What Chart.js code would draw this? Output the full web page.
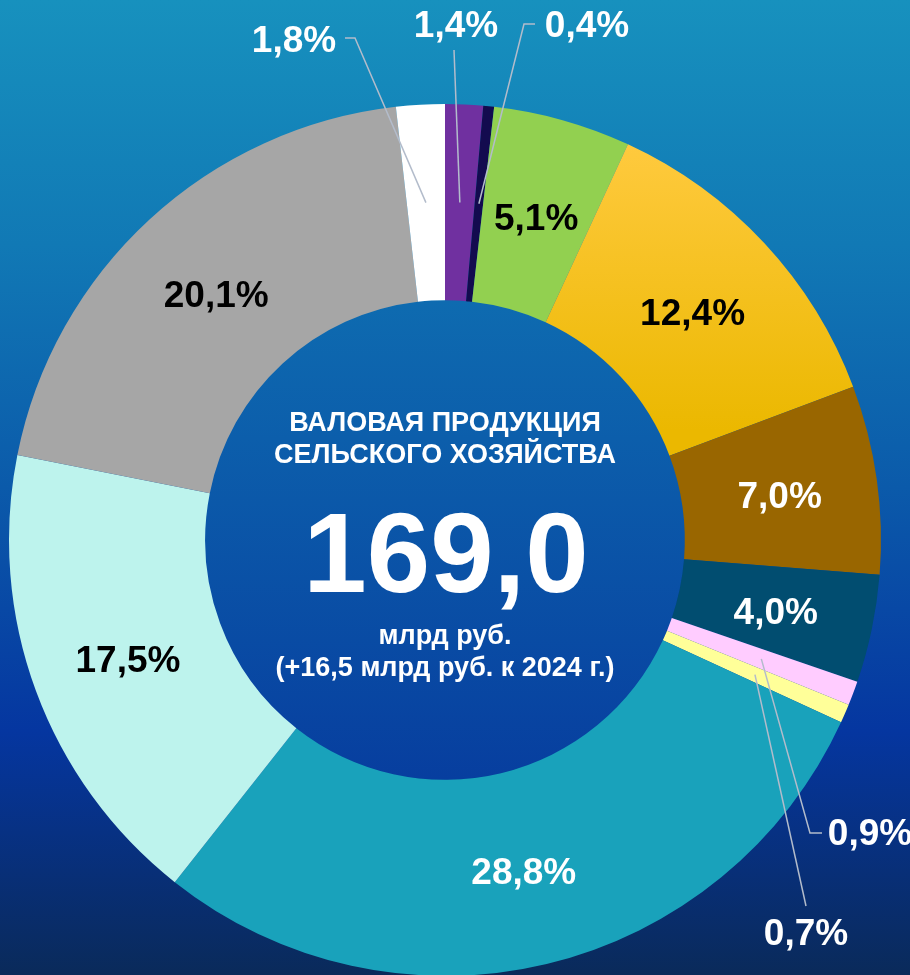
<!DOCTYPE html>
<html>
<head>
<meta charset="utf-8">
<script src="https://cdn.jsdelivr.net/npm/chart.js@4.4.1/dist/chart.umd.min.js"></script>
<style>
  html, body { margin: 0; padding: 0; overflow: hidden; background: #0a2a5c; }
  #wrap {
    width: 910px; height: 975px; overflow: hidden;
    background: linear-gradient(to bottom, #1791be 0%, #1179b5 25%, #0b5aaa 50%, #0536a0 75%, #0a2a5a 100%);
  }
</style>
</head>
<body>
<div id="wrap"><canvas id="grafico" width="910" height="1000"></canvas></div>
<script>
// доли структуры валовой продукции, %
const segmentos = ["1,4%", "0,4%", "5,1%", "12,4%", "7,0%", "4,0%", "0,9%", "0,7%", "28,8%", "17,5%", "20,1%", "1,8%"];
const valores = [1.4, 0.4, 5.1, 12.4, 7.0, 4.0, 0.9, 0.7, 28.8, 17.5, 20.1, 1.8];
const cores = ["#7030a0", "#130b4f", "#92d050", "amarelo", "#996600", "#014d70", "#ffccff", "#ffff99", "#19a2bb", "#bdf3ed", "#a6a6a6", "#ffffff"];
const corTexto = ["#fff", "#fff", "#000", "#000", "#fff", "#fff", "#fff", "#fff", "#fff", "#000", "#000", "#fff"];

const tituloCentro = ["ВАЛОВАЯ ПРОДУКЦИЯ", "СЕЛЬСКОГО ХОЗЯЙСТВА"];
const valorCentro = "169,0";
const unidadeCentro = ["млрд руб.", "(+16,5 млрд руб. к 2024 г.)"];

// rótulos fora do anel: posição do texto e linha guia
const rotulosFora = {
  0: { tx: 456, ty: 27, linha: [[454, 50]] },
  1: { tx: 587, ty: 27, linha: [[535, 24], [524, 24]] },
  6: { tx: 870, ty: 835, linha: [[822, 833], [810, 833]] },
  7: { tx: 806, ty: 935, linha: [[806, 906]] },
  11: { tx: 294, ty: 42, linha: [[345, 38], [355, 38]] }
};

const FONTE = "'Liberation Sans', Arial, sans-serif";

const pluginCentro = {
  id: "centro",
  beforeDatasetsDraw(chart) {
    const arc = chart.getDatasetMeta(0).data[0];
    const { x, y, innerRadius } = arc.getProps(["x", "y", "innerRadius"], true);
    const ctx = chart.ctx;
    const g = ctx.createLinearGradient(0, y - innerRadius, 0, y + innerRadius);
    g.addColorStop(0, "#0e6bb0");
    g.addColorStop(1, "#073e9f");
    ctx.save();
    ctx.beginPath();
    ctx.arc(x, y, innerRadius, 0, Math.PI * 2);
    ctx.fillStyle = g;
    ctx.fill();
    ctx.restore();
  },
  afterDatasetsDraw(chart) {
    const ctx = chart.ctx;
    const meta = chart.getDatasetMeta(0);
    const c0 = meta.data[0].getProps(["x", "y"], true);
    ctx.save();
    ctx.textAlign = "center";
    ctx.textBaseline = "middle";
    ctx.fillStyle = "#fff";

    ctx.font = "bold 27px " + FONTE;
    ctx.fillText(tituloCentro[0], c0.x, 424);
    ctx.fillText(tituloCentro[1], c0.x, 456);
    ctx.font = "bold 114px " + FONTE;
    ctx.fillText(valorCentro, c0.x + 1, 561);
    ctx.font = "bold 27px " + FONTE;
    ctx.fillText(unidadeCentro[0], c0.x, 637);
    ctx.fillText(unidadeCentro[1], c0.x, 669);

    meta.data.forEach((arc, i) => {
      const p = arc.getProps(["x", "y", "startAngle", "endAngle", "innerRadius", "outerRadius"], true);
      const meio = (p.startAngle + p.endAngle) / 2;
      const r = (p.innerRadius + p.outerRadius) / 2;
      const ax = p.x + Math.cos(meio) * r;
      const ay = p.y + Math.sin(meio) * r;
      ctx.font = "bold 37px " + FONTE;
      const fora = rotulosFora[i];
      if (fora) {
        ctx.strokeStyle = "#b3bccb";
        ctx.lineWidth = 1.5;
        ctx.beginPath();
        ctx.moveTo(fora.linha[0][0], fora.linha[0][1]);
        fora.linha.slice(1).forEach(pt => ctx.lineTo(pt[0], pt[1]));
        ctx.lineTo(ax, ay);
        ctx.stroke();
        ctx.fillStyle = "#fff";
        ctx.fillText(segmentos[i], fora.tx, fora.ty);
      } else {
        ctx.fillStyle = corTexto[i];
        ctx.fillText(segmentos[i], ax, ay + 5);
      }
    });
    ctx.restore();
  }
};

new Chart(document.getElementById("grafico"), {
  type: "doughnut",
  data: {
    labels: segmentos,
    datasets: [{
      data: valores,
      backgroundColor: (c) => {
        const cor = cores[c.dataIndex];
        if (cor !== "amarelo") return cor;
        const area = c.chart.chartArea;
        if (!area) return "#ffc000";
        const g = c.chart.ctx.createLinearGradient(0, 140, 0, 430);
        g.addColorStop(0, "#ffca3f");
        g.addColorStop(1, "#ebb800");
        return g;
      },
      borderWidth: 0
    }]
  },
  options: {
    responsive: false,
    animation: false,
    cutout: "55%",
    rotation: 0,
    layout: { padding: { left: 9, right: 29, top: 104, bottom: 24 } },
    plugins: {
      legend: { display: false },
      tooltip: { enabled: false }
    }
  },
  plugins: [pluginCentro]
});
</script>
</body>
</html>
